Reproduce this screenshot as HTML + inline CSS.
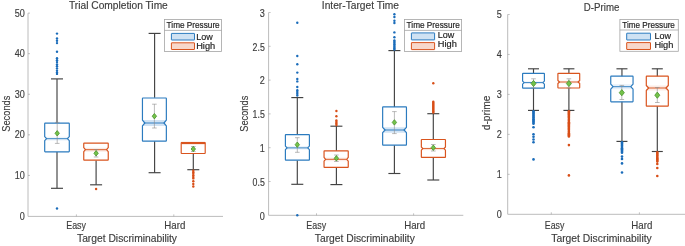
<!DOCTYPE html>
<html><head><meta charset="utf-8"><title>Box plots</title>
<style>
html,body{margin:0;padding:0;background:#fff;}
svg{display:block;font-family:"Liberation Sans",sans-serif;}
</style></head>
<body>
<svg width="685" height="246" viewBox="0 0 685 246">
<rect x="0" y="0" width="685" height="246" fill="#ffffff"/>
<path d="M28,13.2 L28,216.4 L223,216.4" stroke="#bcbcbc" stroke-width="1" fill="none"/>
<path d="M28,175.420 L30,175.420" stroke="#9a9a9a" stroke-width="0.6" fill="none"/>
<path d="M28,134.84 L30,134.84" stroke="#9a9a9a" stroke-width="0.6" fill="none"/>
<path d="M28,94.26 L30,94.26" stroke="#9a9a9a" stroke-width="0.6" fill="none"/>
<path d="M28,53.680 L30,53.680" stroke="#9a9a9a" stroke-width="0.6" fill="none"/>
<path d="M28,13.100 L30,13.100" stroke="#9a9a9a" stroke-width="0.6" fill="none"/>
<path d="M76.4,216.4 L76.4,214.4" stroke="#9a9a9a" stroke-width="0.6" fill="none"/>
<path d="M173.8,216.4 L173.8,214.4" stroke="#9a9a9a" stroke-width="0.6" fill="none"/>
<text x="24.9" y="219.6" font-size="10.4" text-anchor="end" fill="#3c3c3c" stroke="#3c3c3c" stroke-width="0.15" textLength="5.05" lengthAdjust="spacingAndGlyphs">0</text>
<text x="24.9" y="179.02" font-size="10.4" text-anchor="end" fill="#3c3c3c" stroke="#3c3c3c" stroke-width="0.15" textLength="10.1" lengthAdjust="spacingAndGlyphs">10</text>
<text x="24.9" y="138.44" font-size="10.4" text-anchor="end" fill="#3c3c3c" stroke="#3c3c3c" stroke-width="0.15" textLength="10.1" lengthAdjust="spacingAndGlyphs">20</text>
<text x="24.9" y="97.86" font-size="10.4" text-anchor="end" fill="#3c3c3c" stroke="#3c3c3c" stroke-width="0.15" textLength="10.1" lengthAdjust="spacingAndGlyphs">30</text>
<text x="24.9" y="57.280" font-size="10.4" text-anchor="end" fill="#3c3c3c" stroke="#3c3c3c" stroke-width="0.15" textLength="10.1" lengthAdjust="spacingAndGlyphs">40</text>
<text x="24.9" y="16.700" font-size="10.4" text-anchor="end" fill="#3c3c3c" stroke="#3c3c3c" stroke-width="0.15" textLength="10.1" lengthAdjust="spacingAndGlyphs">50</text>
<text x="118.4" y="9.0" font-size="10.4" text-anchor="middle" fill="#3c3c3c" stroke="#3c3c3c" stroke-width="0.15" textLength="98.8" lengthAdjust="spacingAndGlyphs">Trial Completion Time</text>
<text x="76.1" y="229.1" font-size="10.4" text-anchor="middle" fill="#3c3c3c" stroke="#3c3c3c" stroke-width="0.15" textLength="19.8" lengthAdjust="spacingAndGlyphs">Easy</text>
<text x="174.8" y="229.1" font-size="10.4" text-anchor="middle" fill="#3c3c3c" stroke="#3c3c3c" stroke-width="0.15" textLength="21" lengthAdjust="spacingAndGlyphs">Hard</text>
<text x="127" y="241.6" font-size="10.4" text-anchor="middle" fill="#3c3c3c" stroke="#3c3c3c" stroke-width="0.15" textLength="100" lengthAdjust="spacingAndGlyphs">Target Discriminability</text>
<text x="9.7" y="113.7" font-size="10.4" text-anchor="middle" fill="#3c3c3c" stroke="#3c3c3c" stroke-width="0.15" textLength="36" lengthAdjust="spacingAndGlyphs" transform="rotate(-90 9.7 113.7)">Seconds</text>
<rect x="164.4" y="19.5" width="57.199" height="32.0" fill="#fff" stroke="#a4a4a4" stroke-width="0.8"/>
<path d="M164.4,30.4 L221.6,30.4" stroke="#a4a4a4" stroke-width="0.8"/>
<rect x="171.4" y="33.4" width="23.099" height="6.600" rx="0.25" fill="#cfe2f3" stroke="#2b7bbf" stroke-width="1"/>
<rect x="171.4" y="42.8" width="23.099" height="6.700" rx="0.25" fill="#f8d8cb" stroke="#d9541e" stroke-width="1"/>
<text x="166.6" y="27.8" font-size="9.4" text-anchor="start" fill="#1e1e1e" stroke="#1e1e1e" stroke-width="0.2" textLength="53.1" lengthAdjust="spacingAndGlyphs">Time Pressure</text>
<text x="196.2" y="39.8" font-size="9.8" text-anchor="start" fill="#1e1e1e" stroke="#1e1e1e" stroke-width="0.2" textLength="16.5" lengthAdjust="spacingAndGlyphs">Low</text>
<text x="196.2" y="49.0" font-size="9.8" text-anchor="start" fill="#1e1e1e" stroke="#1e1e1e" stroke-width="0.2" textLength="19" lengthAdjust="spacingAndGlyphs">High</text>
<path d="M57,123.0 L57,78.9" stroke="#424242" stroke-width="1.15" fill="none"/>
<path d="M51.0,78.9 L63.0,78.9" stroke="#424242" stroke-width="1.15" fill="none"/>
<path d="M57,152.0 L57,188.3" stroke="#424242" stroke-width="1.15" fill="none"/>
<path d="M51.0,188.3 L63.0,188.3" stroke="#424242" stroke-width="1.15" fill="none"/>
<path d="M44.7,136.7 L46.6,138.7 L44.7,140.7 L69.3,140.7 L67.399,138.7 L69.3,136.7 Z" fill="#cfe2f3" fill-opacity="0.35" stroke="none"/>
<path d="M45.150,123.2 L68.85,123.2 Q69.3,123.2 69.3,123.65 L69.3,136.7 L67.399,138.7 L69.3,140.7 L69.3,151.350 Q69.3,151.8 68.85,151.8 L45.150,151.8 Q44.7,151.8 44.7,151.350 L44.7,140.7 L46.6,138.7 L44.7,136.7 L44.7,123.65 Q44.7,123.2 45.150,123.2 Z" fill="none" stroke="#2b7bbf" stroke-width="1.18" stroke-linejoin="round"/>
<path d="M46.6,138.7 L67.399,138.7" stroke="#2b7bbf" stroke-width="0.95" fill="none"/>
<path d="M57.2,122.4 L57.2,143.4 M54.900,122.4 L59.5,122.4 M54.900,143.4 L59.5,143.4" stroke="#8c8c8c" stroke-width="0.6" fill="none"/>
<path d="M57.2,130.6 L59.4,133.3 L57.2,136.0 L55.0,133.3 Z" fill="#74c24a" stroke="#47932b" stroke-width="0.8" stroke-linejoin="round"/>
<circle cx="57" cy="33.6" r="1.2" fill="#1a6cba"/>
<circle cx="57" cy="38.5" r="1.2" fill="#1a6cba"/>
<circle cx="57" cy="40.8" r="1.2" fill="#1a6cba"/>
<circle cx="57" cy="43.1" r="1.2" fill="#1a6cba"/>
<circle cx="57" cy="51.7" r="1.2" fill="#1a6cba"/>
<circle cx="57" cy="58.2" r="1.2" fill="#1a6cba"/>
<circle cx="57" cy="60.3" r="1.2" fill="#1a6cba"/>
<circle cx="57" cy="62.1" r="1.2" fill="#1a6cba"/>
<circle cx="57" cy="64.4" r="1.2" fill="#1a6cba"/>
<circle cx="57" cy="66.3" r="1.2" fill="#1a6cba"/>
<circle cx="57" cy="68.4" r="1.2" fill="#1a6cba"/>
<circle cx="57" cy="70.7" r="1.2" fill="#1a6cba"/>
<circle cx="57" cy="72.6" r="1.2" fill="#1a6cba"/>
<circle cx="57" cy="73.9" r="1.2" fill="#1a6cba"/>
<circle cx="57" cy="208.5" r="1.2" fill="#1a6cba"/>
<path d="M96.1,160.4 L96.1,184.8" stroke="#424242" stroke-width="1.15" fill="none"/>
<path d="M90.1,184.8 L102.1,184.8" stroke="#424242" stroke-width="1.15" fill="none"/>
<path d="M83.75,147.7 L85.45,149.7 L83.75,151.7 L108.25,151.7 L106.55,149.7 L108.25,147.7 Z" fill="#f8d8cb" fill-opacity="0.5" stroke="none"/>
<path d="M84.2,143.1 L107.8,143.1 Q108.25,143.1 108.25,143.549 L108.25,147.7 L106.55,149.7 L108.25,151.7 L108.25,159.75 Q108.25,160.2 107.8,160.2 L84.2,160.2 Q83.75,160.2 83.75,159.75 L83.75,151.7 L85.45,149.7 L83.75,147.7 L83.75,143.549 Q83.75,143.1 84.2,143.1 Z" fill="none" stroke="#d9541e" stroke-width="1.18" stroke-linejoin="round"/>
<path d="M85.45,149.7 L106.55,149.7" stroke="#d9541e" stroke-width="0.95" fill="none"/>
<path d="M96.1,149.6 L96.1,157 M93.8,149.6 L98.399,149.6 M93.8,157 L98.399,157" stroke="#8c8c8c" stroke-width="0.6" fill="none"/>
<path d="M96.1,150.6 L98.3,153.3 L96.1,156.0 L93.9,153.3 Z" fill="#74c24a" stroke="#47932b" stroke-width="0.8" stroke-linejoin="round"/>
<circle cx="96.1" cy="189" r="1.2" fill="#d84e17"/>
<path d="M154.6,97.8 L154.6,33.4" stroke="#424242" stroke-width="1.15" fill="none"/>
<path d="M148.6,33.4 L160.6,33.4" stroke="#424242" stroke-width="1.15" fill="none"/>
<path d="M154.6,141.2 L154.6,172.7" stroke="#424242" stroke-width="1.15" fill="none"/>
<path d="M148.6,172.7 L160.6,172.7" stroke="#424242" stroke-width="1.15" fill="none"/>
<path d="M142.450,120.1 L144.850,123.0 L142.450,125.9 L166.35,125.9 L163.95,123.0 L166.35,120.1 Z" fill="#cfe2f3" fill-opacity="0.95" stroke="none"/>
<path d="M142.9,98.0 L165.9,98.0 Q166.35,98.0 166.35,98.45 L166.35,120.1 L163.95,123.0 L166.35,125.9 L166.35,140.75 Q166.35,141.2 165.9,141.2 L142.9,141.2 Q142.450,141.2 142.450,140.75 L142.450,125.9 L144.850,123.0 L142.450,120.1 L142.450,98.45 Q142.450,98.0 142.9,98.0 Z" fill="none" stroke="#2b7bbf" stroke-width="1.18" stroke-linejoin="round"/>
<path d="M144.850,123.0 L163.95,123.0" stroke="#2b7bbf" stroke-width="0.95" fill="none"/>
<path d="M154.4,104.2 L154.4,128 M152.1,104.2 L156.700,104.2 M152.1,128 L156.700,128" stroke="#8c8c8c" stroke-width="0.6" fill="none"/>
<path d="M154.4,113.5 L156.6,116.2 L154.4,118.9 L152.2,116.2 Z" fill="#74c24a" stroke="#47932b" stroke-width="0.8" stroke-linejoin="round"/>
<path d="M193.3,153.3 L193.3,169.7" stroke="#424242" stroke-width="1.15" fill="none"/>
<path d="M187.3,169.7 L199.3,169.7" stroke="#424242" stroke-width="1.15" fill="none"/>
<rect x="181.2" y="142.5" width="24.0" height="11.0" rx="0.5" fill="none" stroke="#d9541e" stroke-width="1.15"/>
<path d="M181.2,143.025 L205.2,143.025" stroke="#d9541e" stroke-width="2.2" fill="none"/>
<path d="M193.3,146.5 L193.3,151.5 M191.0,146.5 L195.600,146.5 M191.0,151.5 L195.600,151.5" stroke="#8c8c8c" stroke-width="0.6" fill="none"/>
<path d="M193.3,146.3 L195.5,149 L193.3,151.7 L191.1,149 Z" fill="#74c24a" stroke="#47932b" stroke-width="0.8" stroke-linejoin="round"/>
<circle cx="193.3" cy="170.8" r="1.2" fill="#d84e17"/>
<circle cx="193.3" cy="172.32" r="1.2" fill="#d84e17"/>
<circle cx="193.3" cy="173.84" r="1.2" fill="#d84e17"/>
<circle cx="193.3" cy="175.36" r="1.2" fill="#d84e17"/>
<circle cx="193.3" cy="176.88" r="1.2" fill="#d84e17"/>
<circle cx="193.3" cy="178.4" r="1.2" fill="#d84e17"/>
<circle cx="193.3" cy="181.3" r="1.2" fill="#d84e17"/>
<circle cx="193.3" cy="184.0" r="1.2" fill="#d84e17"/>
<circle cx="193.3" cy="186.5" r="1.2" fill="#d84e17"/>
<path d="M268.6,12.6 L268.6,215.3 L463.3,215.3" stroke="#bcbcbc" stroke-width="1" fill="none"/>
<path d="M268.6,181.5 L270.6,181.5" stroke="#9a9a9a" stroke-width="0.6" fill="none"/>
<path d="M268.6,147.700 L270.6,147.700" stroke="#9a9a9a" stroke-width="0.6" fill="none"/>
<path d="M268.6,113.900 L270.6,113.900" stroke="#9a9a9a" stroke-width="0.6" fill="none"/>
<path d="M268.6,80.100 L270.6,80.100" stroke="#9a9a9a" stroke-width="0.6" fill="none"/>
<path d="M268.6,46.300 L270.6,46.300" stroke="#9a9a9a" stroke-width="0.6" fill="none"/>
<path d="M268.6,12.500 L270.6,12.500" stroke="#9a9a9a" stroke-width="0.6" fill="none"/>
<path d="M316.5,215.3 L316.5,213.3" stroke="#9a9a9a" stroke-width="0.6" fill="none"/>
<path d="M413.6,215.3 L413.6,213.3" stroke="#9a9a9a" stroke-width="0.6" fill="none"/>
<text x="264.8" y="219.5" font-size="10.4" text-anchor="end" fill="#3c3c3c" stroke="#3c3c3c" stroke-width="0.15" textLength="5.05" lengthAdjust="spacingAndGlyphs">0</text>
<text x="264.8" y="185.7" font-size="10.4" text-anchor="end" fill="#3c3c3c" stroke="#3c3c3c" stroke-width="0.15" textLength="12.2" lengthAdjust="spacingAndGlyphs">0.5</text>
<text x="264.8" y="151.9" font-size="10.4" text-anchor="end" fill="#3c3c3c" stroke="#3c3c3c" stroke-width="0.15" textLength="5.05" lengthAdjust="spacingAndGlyphs">1</text>
<text x="264.8" y="118.100" font-size="10.4" text-anchor="end" fill="#3c3c3c" stroke="#3c3c3c" stroke-width="0.15" textLength="12.2" lengthAdjust="spacingAndGlyphs">1.5</text>
<text x="264.8" y="84.300" font-size="10.4" text-anchor="end" fill="#3c3c3c" stroke="#3c3c3c" stroke-width="0.15" textLength="5.05" lengthAdjust="spacingAndGlyphs">2</text>
<text x="264.8" y="50.500" font-size="10.4" text-anchor="end" fill="#3c3c3c" stroke="#3c3c3c" stroke-width="0.15" textLength="12.2" lengthAdjust="spacingAndGlyphs">2.5</text>
<text x="264.8" y="16.700" font-size="10.4" text-anchor="end" fill="#3c3c3c" stroke="#3c3c3c" stroke-width="0.15" textLength="5.05" lengthAdjust="spacingAndGlyphs">3</text>
<text x="360.4" y="8.7" font-size="10.4" text-anchor="middle" fill="#3c3c3c" stroke="#3c3c3c" stroke-width="0.15" textLength="77.2" lengthAdjust="spacingAndGlyphs">Inter-Target Time</text>
<text x="316.2" y="228.5" font-size="10.4" text-anchor="middle" fill="#3c3c3c" stroke="#3c3c3c" stroke-width="0.15" textLength="19.8" lengthAdjust="spacingAndGlyphs">Easy</text>
<text x="414.7" y="228.5" font-size="10.4" text-anchor="middle" fill="#3c3c3c" stroke="#3c3c3c" stroke-width="0.15" textLength="21" lengthAdjust="spacingAndGlyphs">Hard</text>
<text x="364.8" y="242.1" font-size="10.4" text-anchor="middle" fill="#3c3c3c" stroke="#3c3c3c" stroke-width="0.15" textLength="100" lengthAdjust="spacingAndGlyphs">Target Discriminability</text>
<text x="247.7" y="113.7" font-size="10.4" text-anchor="middle" fill="#3c3c3c" stroke="#3c3c3c" stroke-width="0.15" textLength="36" lengthAdjust="spacingAndGlyphs" transform="rotate(-90 247.7 113.7)">Seconds</text>
<rect x="404.4" y="19.5" width="57.200" height="31.9" fill="#fff" stroke="#a4a4a4" stroke-width="0.8"/>
<path d="M404.4,30.4 L461.6,30.4" stroke="#a4a4a4" stroke-width="0.8"/>
<rect x="411.4" y="32.9" width="23.200" height="7.0" rx="0.25" fill="#cfe2f3" stroke="#2b7bbf" stroke-width="1"/>
<rect x="411.4" y="42.6" width="23.200" height="7.0" rx="0.25" fill="#f8d8cb" stroke="#d9541e" stroke-width="1"/>
<text x="406.6" y="27.8" font-size="9.4" text-anchor="start" fill="#1e1e1e" stroke="#1e1e1e" stroke-width="0.2" textLength="53.2" lengthAdjust="spacingAndGlyphs">Time Pressure</text>
<text x="437.8" y="37.7" font-size="9.8" text-anchor="start" fill="#1e1e1e" stroke="#1e1e1e" stroke-width="0.2" textLength="16.5" lengthAdjust="spacingAndGlyphs">Low</text>
<text x="437.8" y="47.0" font-size="9.8" text-anchor="start" fill="#1e1e1e" stroke="#1e1e1e" stroke-width="0.2" textLength="19" lengthAdjust="spacingAndGlyphs">High</text>
<path d="M297.3,134.4 L297.3,97.6" stroke="#424242" stroke-width="1.15" fill="none"/>
<path d="M291.3,97.6 L303.3,97.6" stroke="#424242" stroke-width="1.15" fill="none"/>
<path d="M297.3,160.4 L297.3,184.3" stroke="#424242" stroke-width="1.15" fill="none"/>
<path d="M291.3,184.3 L303.3,184.3" stroke="#424242" stroke-width="1.15" fill="none"/>
<path d="M285.4,146.1 L287.099,147.9 L285.4,149.700 L309.4,149.700 L307.7,147.9 L309.4,146.1 Z" fill="#cfe2f3" fill-opacity="0.4" stroke="none"/>
<path d="M285.849,134.6 L308.95,134.6 Q309.4,134.6 309.4,135.049 L309.4,146.1 L307.7,147.9 L309.4,149.700 L309.4,159.75 Q309.4,160.2 308.95,160.2 L285.849,160.2 Q285.4,160.2 285.4,159.75 L285.4,149.700 L287.099,147.9 L285.4,146.1 L285.4,135.049 Q285.4,134.6 285.849,134.6 Z" fill="none" stroke="#2b7bbf" stroke-width="1.18" stroke-linejoin="round"/>
<path d="M287.099,147.9 L307.7,147.9" stroke="#2b7bbf" stroke-width="0.95" fill="none"/>
<path d="M297.3,137.7 L297.3,152.3 M295.0,137.7 L299.6,137.7 M295.0,152.3 L299.6,152.3" stroke="#8c8c8c" stroke-width="0.6" fill="none"/>
<path d="M297.3,142.0 L299.5,144.7 L297.3,147.4 L295.1,144.7 Z" fill="#74c24a" stroke="#47932b" stroke-width="0.8" stroke-linejoin="round"/>
<circle cx="297.3" cy="22.7" r="1.2" fill="#1a6cba"/>
<circle cx="297.3" cy="56" r="1.2" fill="#1a6cba"/>
<circle cx="297.3" cy="64.3" r="1.2" fill="#1a6cba"/>
<circle cx="297.3" cy="72.6" r="1.2" fill="#1a6cba"/>
<circle cx="297.3" cy="78.9" r="1.2" fill="#1a6cba"/>
<circle cx="297.3" cy="81.4" r="1.2" fill="#1a6cba"/>
<circle cx="297.3" cy="87" r="1.2" fill="#1a6cba"/>
<circle cx="297.3" cy="215.3" r="1.2" fill="#1a6cba"/>
<circle cx="297.3" cy="90.3" r="1.2" fill="#1a6cba"/>
<circle cx="297.3" cy="92.03" r="1.2" fill="#1a6cba"/>
<circle cx="297.3" cy="93.77" r="1.2" fill="#1a6cba"/>
<circle cx="297.3" cy="95.5" r="1.2" fill="#1a6cba"/>
<path d="M336.4,150.8 L336.4,126.2" stroke="#424242" stroke-width="1.15" fill="none"/>
<path d="M330.4,126.2 L342.4,126.2" stroke="#424242" stroke-width="1.15" fill="none"/>
<path d="M336.4,167.4 L336.4,184.6" stroke="#424242" stroke-width="1.15" fill="none"/>
<path d="M330.4,184.6 L342.4,184.6" stroke="#424242" stroke-width="1.15" fill="none"/>
<path d="M324.049,157.4 L325.549,159.3 L324.049,161.200 L348.25,161.200 L346.75,159.3 L348.25,157.4 Z" fill="#f8d8cb" fill-opacity="0.4" stroke="none"/>
<path d="M324.499,150.9 L347.8,150.9 Q348.25,150.9 348.25,151.35 L348.25,157.4 L346.75,159.3 L348.25,161.200 L348.25,166.950 Q348.25,167.4 347.8,167.4 L324.499,167.4 Q324.049,167.4 324.049,166.950 L324.049,161.200 L325.549,159.3 L324.049,157.4 L324.049,151.35 Q324.049,150.9 324.499,150.9 Z" fill="none" stroke="#d9541e" stroke-width="1.18" stroke-linejoin="round"/>
<path d="M325.549,159.3 L346.75,159.3" stroke="#d9541e" stroke-width="0.95" fill="none"/>
<path d="M336.4,155 L336.4,161.5 M334.099,155 L338.7,155 M334.099,161.5 L338.7,161.5" stroke="#8c8c8c" stroke-width="0.6" fill="none"/>
<path d="M336.4,155.6 L338.6,158.3 L336.4,161.0 L334.2,158.3 Z" fill="#74c24a" stroke="#47932b" stroke-width="0.8" stroke-linejoin="round"/>
<circle cx="336.4" cy="111" r="1.2" fill="#d84e17"/>
<circle cx="336.4" cy="116.2" r="1.2" fill="#d84e17"/>
<circle cx="336.4" cy="120.4" r="1.2" fill="#d84e17"/>
<circle cx="336.4" cy="121.93" r="1.2" fill="#d84e17"/>
<circle cx="336.4" cy="123.47" r="1.2" fill="#d84e17"/>
<circle cx="336.4" cy="125.0" r="1.2" fill="#d84e17"/>
<path d="M394.4,107.0 L394.4,50.6" stroke="#424242" stroke-width="1.15" fill="none"/>
<path d="M388.4,50.6 L400.4,50.6" stroke="#424242" stroke-width="1.15" fill="none"/>
<path d="M394.4,145.2 L394.4,173.5" stroke="#424242" stroke-width="1.15" fill="none"/>
<path d="M388.4,173.5 L400.4,173.5" stroke="#424242" stroke-width="1.15" fill="none"/>
<path d="M382.650,127.3 L385.05,130.0 L382.650,132.7 L406.45,132.7 L404.05,130.0 L406.45,127.3 Z" fill="#cfe2f3" fill-opacity="0.95" stroke="none"/>
<path d="M383.1,106.9 L406.0,106.9 Q406.45,106.9 406.45,107.350 L406.45,127.3 L404.05,130.0 L406.45,132.7 L406.45,144.75 Q406.45,145.2 406.0,145.2 L383.1,145.2 Q382.650,145.2 382.650,144.75 L382.650,132.7 L385.05,130.0 L382.650,127.3 L382.650,107.350 Q382.650,106.9 383.1,106.9 Z" fill="none" stroke="#2b7bbf" stroke-width="1.18" stroke-linejoin="round"/>
<path d="M385.05,130.0 L404.05,130.0" stroke="#2b7bbf" stroke-width="0.95" fill="none"/>
<path d="M394.4,111.6 L394.4,133.6 M392.099,111.6 L396.7,111.6 M392.099,133.6 L396.7,133.6" stroke="#8c8c8c" stroke-width="0.6" fill="none"/>
<path d="M394.4,119.7 L396.6,122.4 L394.4,125.1 L392.2,122.4 Z" fill="#74c24a" stroke="#47932b" stroke-width="0.8" stroke-linejoin="round"/>
<circle cx="394.4" cy="14.2" r="1.2" fill="#1a6cba"/>
<circle cx="394.4" cy="17.0" r="1.2" fill="#1a6cba"/>
<circle cx="394.4" cy="20.8" r="1.2" fill="#1a6cba"/>
<circle cx="394.4" cy="23.0" r="1.2" fill="#1a6cba"/>
<circle cx="394.4" cy="32.4" r="1.2" fill="#1a6cba"/>
<circle cx="394.4" cy="37.2" r="1.2" fill="#1a6cba"/>
<circle cx="394.4" cy="40.4" r="1.2" fill="#1a6cba"/>
<circle cx="394.4" cy="41.71" r="1.2" fill="#1a6cba"/>
<circle cx="394.4" cy="43.03" r="1.2" fill="#1a6cba"/>
<circle cx="394.4" cy="44.34" r="1.2" fill="#1a6cba"/>
<circle cx="394.4" cy="45.66" r="1.2" fill="#1a6cba"/>
<circle cx="394.4" cy="46.97" r="1.2" fill="#1a6cba"/>
<circle cx="394.4" cy="48.29" r="1.2" fill="#1a6cba"/>
<circle cx="394.4" cy="49.6" r="1.2" fill="#1a6cba"/>
<path d="M433.3,139.4 L433.3,113.7" stroke="#424242" stroke-width="1.15" fill="none"/>
<path d="M427.3,113.7 L439.3,113.7" stroke="#424242" stroke-width="1.15" fill="none"/>
<path d="M433.3,157.8 L433.3,180" stroke="#424242" stroke-width="1.15" fill="none"/>
<path d="M427.3,180 L439.3,180" stroke="#424242" stroke-width="1.15" fill="none"/>
<path d="M421.349,147.0 L422.849,148.6 L421.349,150.2 L445.45,150.2 L443.95,148.6 L445.45,147.0 Z" fill="#f8d8cb" fill-opacity="0.3" stroke="none"/>
<path d="M421.799,139.5 L445.0,139.5 Q445.45,139.5 445.45,139.95 L445.45,147.0 L443.95,148.6 L445.45,150.2 L445.45,156.950 Q445.45,157.4 445.0,157.4 L421.799,157.4 Q421.349,157.4 421.349,156.950 L421.349,150.2 L422.849,148.6 L421.349,147.0 L421.349,139.95 Q421.349,139.5 421.799,139.5 Z" fill="none" stroke="#d9541e" stroke-width="1.18" stroke-linejoin="round"/>
<path d="M422.849,148.6 L443.95,148.6" stroke="#d9541e" stroke-width="0.95" fill="none"/>
<path d="M433.3,144.5 L433.3,151 M431.0,144.5 L435.6,144.5 M431.0,151 L435.6,151" stroke="#8c8c8c" stroke-width="0.6" fill="none"/>
<path d="M433.3,145.0 L435.5,147.7 L433.3,150.4 L431.1,147.7 Z" fill="#74c24a" stroke="#47932b" stroke-width="0.8" stroke-linejoin="round"/>
<circle cx="433.3" cy="83.2" r="1.2" fill="#d84e17"/>
<circle cx="433.3" cy="101.8" r="1.2" fill="#d84e17"/>
<circle cx="433.3" cy="102.78" r="1.2" fill="#d84e17"/>
<circle cx="433.3" cy="103.76" r="1.2" fill="#d84e17"/>
<circle cx="433.3" cy="104.75" r="1.2" fill="#d84e17"/>
<circle cx="433.3" cy="105.73" r="1.2" fill="#d84e17"/>
<circle cx="433.3" cy="106.71" r="1.2" fill="#d84e17"/>
<circle cx="433.3" cy="107.69" r="1.2" fill="#d84e17"/>
<circle cx="433.3" cy="108.67" r="1.2" fill="#d84e17"/>
<circle cx="433.3" cy="109.65" r="1.2" fill="#d84e17"/>
<circle cx="433.3" cy="110.64" r="1.2" fill="#d84e17"/>
<circle cx="433.3" cy="111.62" r="1.2" fill="#d84e17"/>
<circle cx="433.3" cy="112.6" r="1.2" fill="#d84e17"/>
<path d="M507.7,14.5 L507.7,214.3 L685,214.3" stroke="#bcbcbc" stroke-width="1" fill="none"/>
<path d="M507.7,174.34 L509.7,174.34" stroke="#9a9a9a" stroke-width="0.6" fill="none"/>
<path d="M507.7,134.38 L509.7,134.38" stroke="#9a9a9a" stroke-width="0.6" fill="none"/>
<path d="M507.7,94.420 L509.7,94.420" stroke="#9a9a9a" stroke-width="0.6" fill="none"/>
<path d="M507.7,54.460 L509.7,54.460" stroke="#9a9a9a" stroke-width="0.6" fill="none"/>
<path d="M507.7,14.5 L509.7,14.5" stroke="#9a9a9a" stroke-width="0.6" fill="none"/>
<path d="M551.3,214.3 L551.3,212.3" stroke="#9a9a9a" stroke-width="0.6" fill="none"/>
<path d="M639.4,214.3 L639.4,212.3" stroke="#9a9a9a" stroke-width="0.6" fill="none"/>
<text x="501.9" y="217.5" font-size="10.4" text-anchor="end" fill="#3c3c3c" stroke="#3c3c3c" stroke-width="0.15" textLength="5.05" lengthAdjust="spacingAndGlyphs">0</text>
<text x="501.9" y="177.54" font-size="10.4" text-anchor="end" fill="#3c3c3c" stroke="#3c3c3c" stroke-width="0.15" textLength="5.05" lengthAdjust="spacingAndGlyphs">1</text>
<text x="501.9" y="137.579" font-size="10.4" text-anchor="end" fill="#3c3c3c" stroke="#3c3c3c" stroke-width="0.15" textLength="5.05" lengthAdjust="spacingAndGlyphs">2</text>
<text x="501.9" y="97.620" font-size="10.4" text-anchor="end" fill="#3c3c3c" stroke="#3c3c3c" stroke-width="0.15" textLength="5.05" lengthAdjust="spacingAndGlyphs">3</text>
<text x="501.9" y="57.660" font-size="10.4" text-anchor="end" fill="#3c3c3c" stroke="#3c3c3c" stroke-width="0.15" textLength="5.05" lengthAdjust="spacingAndGlyphs">4</text>
<text x="501.9" y="17.7" font-size="10.4" text-anchor="end" fill="#3c3c3c" stroke="#3c3c3c" stroke-width="0.15" textLength="5.05" lengthAdjust="spacingAndGlyphs">5</text>
<text x="601.6" y="10.6" font-size="10.4" text-anchor="middle" fill="#3c3c3c" stroke="#3c3c3c" stroke-width="0.15" textLength="35.5" lengthAdjust="spacingAndGlyphs">D-Prime</text>
<text x="554.6" y="228.8" font-size="10.4" text-anchor="middle" fill="#3c3c3c" stroke="#3c3c3c" stroke-width="0.15" textLength="19.6" lengthAdjust="spacingAndGlyphs">Easy</text>
<text x="641.8" y="228.8" font-size="10.4" text-anchor="middle" fill="#3c3c3c" stroke="#3c3c3c" stroke-width="0.15" textLength="21" lengthAdjust="spacingAndGlyphs">Hard</text>
<text x="601.5" y="242.2" font-size="10.4" text-anchor="middle" fill="#3c3c3c" stroke="#3c3c3c" stroke-width="0.15" textLength="100.5" lengthAdjust="spacingAndGlyphs">Target Discriminability</text>
<text x="489.6" y="112.9" font-size="10.4" text-anchor="middle" fill="#3c3c3c" stroke="#3c3c3c" stroke-width="0.15" textLength="34.6" lengthAdjust="spacingAndGlyphs" transform="rotate(-90 489.6 112.9)">d-prime</text>
<rect x="619.9" y="19.4" width="58.399" height="31.9" fill="#fff" stroke="#a4a4a4" stroke-width="0.8"/>
<path d="M619.9,30.0 L678.3,30.0" stroke="#a4a4a4" stroke-width="0.8"/>
<rect x="626.7" y="33.2" width="23.799" height="6.799" rx="0.25" fill="#cfe2f3" stroke="#2b7bbf" stroke-width="1"/>
<rect x="626.7" y="42.6" width="23.799" height="6.899" rx="0.25" fill="#f8d8cb" stroke="#d9541e" stroke-width="1"/>
<text x="622.3" y="27.8" font-size="9.4" text-anchor="start" fill="#1e1e1e" stroke="#1e1e1e" stroke-width="0.2" textLength="52.6" lengthAdjust="spacingAndGlyphs">Time Pressure</text>
<text x="654.4" y="39.2" font-size="9.8" text-anchor="start" fill="#1e1e1e" stroke="#1e1e1e" stroke-width="0.2" textLength="16.5" lengthAdjust="spacingAndGlyphs">Low</text>
<text x="654.4" y="48.4" font-size="9.8" text-anchor="start" fill="#1e1e1e" stroke="#1e1e1e" stroke-width="0.2" textLength="19" lengthAdjust="spacingAndGlyphs">High</text>
<path d="M533.5,73.3 L533.5,68.8" stroke="#424242" stroke-width="1.15" fill="none"/>
<path d="M528.0,68.8 L539.0,68.8" stroke="#424242" stroke-width="1.15" fill="none"/>
<path d="M533.5,88.1 L533.5,110.4" stroke="#424242" stroke-width="1.15" fill="none"/>
<path d="M528.0,110.4 L539.0,110.4" stroke="#424242" stroke-width="1.15" fill="none"/>
<path d="M522.6,81.1 L524.2,82.6 L522.6,84.1 L544.4,84.1 L542.8,82.6 L544.4,81.1 Z" fill="#cfe2f3" fill-opacity="0.3" stroke="none"/>
<path d="M523.050,73.3 L543.949,73.3 Q544.4,73.3 544.4,73.75 L544.4,81.1 L542.8,82.6 L544.4,84.1 L544.4,87.649 Q544.4,88.1 543.949,88.1 L523.050,88.1 Q522.6,88.1 522.6,87.649 L522.6,84.1 L524.2,82.6 L522.6,81.1 L522.6,73.75 Q522.6,73.3 523.050,73.3 Z" fill="none" stroke="#2b7bbf" stroke-width="1.18" stroke-linejoin="round"/>
<path d="M524.2,82.6 L542.8,82.6" stroke="#2b7bbf" stroke-width="0.95" fill="none"/>
<path d="M533.5,78.8 L533.5,88 M531.2,78.8 L535.8,78.8 M531.2,88 L535.8,88" stroke="#8c8c8c" stroke-width="0.6" fill="none"/>
<path d="M533.5,80.39 L536.03,83.5 L533.5,86.61 L530.97,83.5 Z" fill="#74c24a" stroke="#47932b" stroke-width="0.8" stroke-linejoin="round"/>
<circle cx="533.5" cy="111.3" r="1.3" fill="#1a6cba"/>
<circle cx="533.5" cy="112.44" r="1.3" fill="#1a6cba"/>
<circle cx="533.5" cy="113.57" r="1.3" fill="#1a6cba"/>
<circle cx="533.5" cy="114.71" r="1.3" fill="#1a6cba"/>
<circle cx="533.5" cy="115.85" r="1.3" fill="#1a6cba"/>
<circle cx="533.5" cy="116.98" r="1.3" fill="#1a6cba"/>
<circle cx="533.5" cy="118.12" r="1.3" fill="#1a6cba"/>
<circle cx="533.5" cy="119.25" r="1.3" fill="#1a6cba"/>
<circle cx="533.5" cy="120.39" r="1.3" fill="#1a6cba"/>
<circle cx="533.5" cy="121.53" r="1.3" fill="#1a6cba"/>
<circle cx="533.5" cy="122.66" r="1.3" fill="#1a6cba"/>
<circle cx="533.5" cy="123.8" r="1.3" fill="#1a6cba"/>
<circle cx="533.5" cy="127.2" r="1.3" fill="#1a6cba"/>
<circle cx="533.5" cy="134.2" r="1.3" fill="#1a6cba"/>
<circle cx="533.5" cy="136.8" r="1.3" fill="#1a6cba"/>
<circle cx="533.5" cy="139.5" r="1.3" fill="#1a6cba"/>
<circle cx="533.5" cy="142.2" r="1.3" fill="#1a6cba"/>
<circle cx="533.5" cy="159.4" r="1.3" fill="#1a6cba"/>
<path d="M568.9,73.4 L568.9,68.8" stroke="#424242" stroke-width="1.15" fill="none"/>
<path d="M563.4,68.8 L574.4,68.8" stroke="#424242" stroke-width="1.15" fill="none"/>
<path d="M568.9,88.0 L568.9,110.4" stroke="#424242" stroke-width="1.15" fill="none"/>
<path d="M563.4,110.4 L574.4,110.4" stroke="#424242" stroke-width="1.15" fill="none"/>
<path d="M557.9,80.5 L559.5,82.0 L557.9,83.5 L579.699,83.5 L578.099,82.0 L579.699,80.5 Z" fill="#f8d8cb" fill-opacity="0.3" stroke="none"/>
<path d="M558.35,73.4 L579.249,73.4 Q579.699,73.4 579.699,73.850 L579.699,80.5 L578.099,82.0 L579.699,83.5 L579.699,87.55 Q579.699,88.0 579.249,88.0 L558.35,88.0 Q557.9,88.0 557.9,87.55 L557.9,83.5 L559.5,82.0 L557.9,80.5 L557.9,73.850 Q557.9,73.4 558.35,73.4 Z" fill="none" stroke="#d9541e" stroke-width="1.18" stroke-linejoin="round"/>
<path d="M559.5,82.0 L578.099,82.0" stroke="#d9541e" stroke-width="0.95" fill="none"/>
<path d="M568.9,78.8 L568.9,88 M566.6,78.8 L571.199,78.8 M566.6,88 L571.199,88" stroke="#8c8c8c" stroke-width="0.6" fill="none"/>
<path d="M568.9,80.39 L571.43,83.5 L568.9,86.61 L566.37,83.5 Z" fill="#74c24a" stroke="#47932b" stroke-width="0.8" stroke-linejoin="round"/>
<circle cx="568.9" cy="111.3" r="1.3" fill="#d84e17"/>
<circle cx="568.9" cy="112.39" r="1.3" fill="#d84e17"/>
<circle cx="568.9" cy="113.48" r="1.3" fill="#d84e17"/>
<circle cx="568.9" cy="114.57" r="1.3" fill="#d84e17"/>
<circle cx="568.9" cy="115.67" r="1.3" fill="#d84e17"/>
<circle cx="568.9" cy="116.76" r="1.3" fill="#d84e17"/>
<circle cx="568.9" cy="117.85" r="1.3" fill="#d84e17"/>
<circle cx="568.9" cy="118.94" r="1.3" fill="#d84e17"/>
<circle cx="568.9" cy="120.03" r="1.3" fill="#d84e17"/>
<circle cx="568.9" cy="121.12" r="1.3" fill="#d84e17"/>
<circle cx="568.9" cy="122.21" r="1.3" fill="#d84e17"/>
<circle cx="568.9" cy="123.3" r="1.3" fill="#d84e17"/>
<circle cx="568.9" cy="124.4" r="1.3" fill="#d84e17"/>
<circle cx="568.9" cy="125.49" r="1.3" fill="#d84e17"/>
<circle cx="568.9" cy="126.58" r="1.3" fill="#d84e17"/>
<circle cx="568.9" cy="127.67" r="1.3" fill="#d84e17"/>
<circle cx="568.9" cy="128.76" r="1.3" fill="#d84e17"/>
<circle cx="568.9" cy="129.85" r="1.3" fill="#d84e17"/>
<circle cx="568.9" cy="130.94" r="1.3" fill="#d84e17"/>
<circle cx="568.9" cy="132.03" r="1.3" fill="#d84e17"/>
<circle cx="568.9" cy="133.13" r="1.3" fill="#d84e17"/>
<circle cx="568.9" cy="134.22" r="1.3" fill="#d84e17"/>
<circle cx="568.9" cy="135.31" r="1.3" fill="#d84e17"/>
<circle cx="568.9" cy="136.4" r="1.3" fill="#d84e17"/>
<circle cx="568.9" cy="145.1" r="1.3" fill="#d84e17"/>
<circle cx="568.9" cy="175.4" r="1.3" fill="#d84e17"/>
<path d="M621.95,76.2 L621.95,68.8" stroke="#424242" stroke-width="1.15" fill="none"/>
<path d="M616.45,68.8 L627.45,68.8" stroke="#424242" stroke-width="1.15" fill="none"/>
<path d="M621.95,101.8 L621.95,141.4" stroke="#424242" stroke-width="1.15" fill="none"/>
<path d="M616.45,141.4 L627.45,141.4" stroke="#424242" stroke-width="1.15" fill="none"/>
<path d="M610.75,84.2 L613.05,86.7 L610.75,89.2 L633.05,89.2 L630.75,86.7 L633.05,84.2 Z" fill="#cfe2f3" fill-opacity="0.5" stroke="none"/>
<path d="M611.2,76.2 L632.599,76.2 Q633.05,76.2 633.05,76.65 L633.05,84.2 L630.75,86.7 L633.05,89.2 L633.05,101.35 Q633.05,101.8 632.599,101.8 L611.2,101.8 Q610.75,101.8 610.75,101.35 L610.75,89.2 L613.05,86.7 L610.75,84.2 L610.75,76.65 Q610.75,76.2 611.2,76.2 Z" fill="none" stroke="#2b7bbf" stroke-width="1.18" stroke-linejoin="round"/>
<path d="M613.05,86.7 L630.75,86.7" stroke="#2b7bbf" stroke-width="0.95" fill="none"/>
<path d="M621.8,85.4 L621.8,99.5 M619.5,85.4 L624.099,85.4 M619.5,99.5 L624.099,99.5" stroke="#8c8c8c" stroke-width="0.6" fill="none"/>
<path d="M621.8,89.59 L624.33,92.7 L621.8,95.81 L619.27,92.7 Z" fill="#74c24a" stroke="#47932b" stroke-width="0.8" stroke-linejoin="round"/>
<circle cx="622" cy="142.4" r="1.3" fill="#1a6cba"/>
<circle cx="622" cy="143.56" r="1.3" fill="#1a6cba"/>
<circle cx="622" cy="144.71" r="1.3" fill="#1a6cba"/>
<circle cx="622" cy="145.87" r="1.3" fill="#1a6cba"/>
<circle cx="622" cy="147.02" r="1.3" fill="#1a6cba"/>
<circle cx="622" cy="148.18" r="1.3" fill="#1a6cba"/>
<circle cx="622" cy="149.33" r="1.3" fill="#1a6cba"/>
<circle cx="622" cy="150.49" r="1.3" fill="#1a6cba"/>
<circle cx="622" cy="151.64" r="1.3" fill="#1a6cba"/>
<circle cx="622" cy="152.8" r="1.3" fill="#1a6cba"/>
<circle cx="622" cy="156.6" r="1.3" fill="#1a6cba"/>
<circle cx="622" cy="159" r="1.3" fill="#1a6cba"/>
<circle cx="622" cy="163.4" r="1.3" fill="#1a6cba"/>
<circle cx="622" cy="172.5" r="1.3" fill="#1a6cba"/>
<path d="M657.3,76.2 L657.3,68.8" stroke="#424242" stroke-width="1.15" fill="none"/>
<path d="M651.8,68.8 L662.8,68.8" stroke="#424242" stroke-width="1.15" fill="none"/>
<path d="M657.3,106.2 L657.3,151.5" stroke="#424242" stroke-width="1.15" fill="none"/>
<path d="M651.8,151.5 L662.8,151.5" stroke="#424242" stroke-width="1.15" fill="none"/>
<path d="M646.3,85.5 L648.599,88.0 L646.3,90.5 L668.3,90.5 L666.0,88.0 L668.3,85.5 Z" fill="#f8d8cb" fill-opacity="0.5" stroke="none"/>
<path d="M646.75,76.2 L667.849,76.2 Q668.3,76.2 668.3,76.65 L668.3,85.5 L666.0,88.0 L668.3,90.5 L668.3,105.75 Q668.3,106.2 667.849,106.2 L646.75,106.2 Q646.3,106.2 646.3,105.75 L646.3,90.5 L648.599,88.0 L646.3,85.5 L646.3,76.65 Q646.3,76.2 646.75,76.2 Z" fill="none" stroke="#d9541e" stroke-width="1.18" stroke-linejoin="round"/>
<path d="M648.599,88.0 L666.0,88.0" stroke="#d9541e" stroke-width="0.95" fill="none"/>
<path d="M657.3,87.5 L657.3,102.5 M655.0,87.5 L659.599,87.5 M655.0,102.5 L659.599,102.5" stroke="#8c8c8c" stroke-width="0.6" fill="none"/>
<path d="M657.3,92.09 L659.83,95.2 L657.3,98.31 L654.77,95.2 Z" fill="#74c24a" stroke="#47932b" stroke-width="0.8" stroke-linejoin="round"/>
<circle cx="657.3" cy="152.4" r="1.3" fill="#d84e17"/>
<circle cx="657.3" cy="153.55" r="1.3" fill="#d84e17"/>
<circle cx="657.3" cy="154.7" r="1.3" fill="#d84e17"/>
<circle cx="657.3" cy="155.85" r="1.3" fill="#d84e17"/>
<circle cx="657.3" cy="157.0" r="1.3" fill="#d84e17"/>
<circle cx="657.3" cy="158.15" r="1.3" fill="#d84e17"/>
<circle cx="657.3" cy="159.3" r="1.3" fill="#d84e17"/>
<circle cx="657.3" cy="160.45" r="1.3" fill="#d84e17"/>
<circle cx="657.3" cy="161.6" r="1.3" fill="#d84e17"/>
<circle cx="657.3" cy="164" r="1.3" fill="#d84e17"/>
<circle cx="657.3" cy="168" r="1.3" fill="#d84e17"/>
<circle cx="657.3" cy="176" r="1.3" fill="#d84e17"/>
</svg>
</body></html>
